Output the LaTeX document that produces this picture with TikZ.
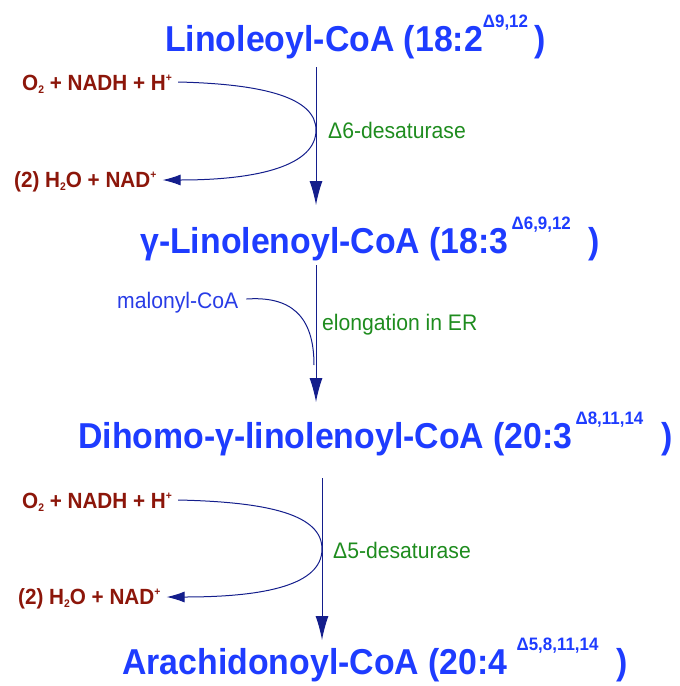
\documentclass[tikz,border=0pt]{standalone}
\usepackage{fontspec}
\setmainfont{Liberation Sans}[FakeStretch=0.94]
\usetikzlibrary{arrows.meta}
\definecolor{tblue}{RGB}{30,60,255}
\definecolor{mred}{RGB}{140,22,10}
\definecolor{egreen}{RGB}{30,140,30}
\definecolor{anavy}{RGB}{20,30,140}
\definecolor{mblue}{RGB}{40,60,230}
\newcommand{\lsub}[1]{\raisebox{-0.3ex}{\fontsize{11}{11}\selectfont #1}}
\newcommand{\lsup}[1]{\raisebox{0.7ex}{\fontsize{11}{11}\selectfont #1}}
\newcommand{\tsup}[1]{\raisebox{1.25ex}{\fontsize{18}{18}\selectfont #1}}
\tikzset{
  title/.style={text=tblue, font=\fontsize{36}{36}\selectfont\bfseries, anchor=base west, inner sep=0pt},
  reag/.style={text=mred, font=\fontsize{22}{22}\selectfont\bfseries, anchor=base west, inner sep=0pt},
  enz/.style={text=egreen, font=\fontsize{22.5}{22.5}\selectfont, anchor=base west, inner sep=0pt},
  mal/.style={text=mblue, font=\fontsize{22.5}{22.5}\selectfont, anchor=base west, inner sep=0pt},
  mainarrow/.style={draw=anavy, line width=1pt, -{Latex[length=24pt,width=13pt]}},
  sidecurve/.style={draw=anavy, line width=1pt},
}
\begin{document}
\begin{tikzpicture}[x=1pt,y=-1pt]
\useasboundingbox (0,0) rectangle (680,686);
% titles
\node[title] (t1) at (165,51) {Linoleoyl-CoA (18:2\tsup{Δ9,12}\,)};
\node[title] (t2) at (140,253) {γ-Linolenoyl-CoA (18:3\tsup{\,Δ6,9,12}\enspace)};
\node[title] (t3) at (78,448) {Dihomo-γ-linolenoyl-CoA (20:3\tsup{\,Δ8,11,14}\enspace)};
\node[title] (t4) at (122,674) {Arachidonoyl-CoA (20:4\tsup{\enspace Δ5,8,11,14}\enspace)};
% step 1
\node[reag] (o1) at (22,90) {O\lsub{2} + NADH + H\lsup{+}};
\node[reag] (w1) at (14,187) {(2) H\lsub{2}O + NAD\lsup{+}};
\node[enz] (e1) at (328,138) {Δ6-desaturase};
\coordinate (a1s) at (316,67);
\coordinate (a1e) at (316,205);
\coordinate (b1) at (316,130);
\draw[mainarrow] (a1s) -- (a1e);
\draw[sidecurve] ([xshift=6pt]o1.east |- 0,82) .. controls (265,84) and (316,98) .. (b1);
\draw[sidecurve, -{Latex[length=18pt,width=11pt]}] (b1) .. controls (316,165) and (260,180) .. ([xshift=6pt]w1.east |- 0,180);
% step 2
\node[mal] (m2) at (117,308) {malonyl-CoA};
\node[enz] (e2) at (322,330) {elongation in ER};
\coordinate (a2s) at (316,265);
\coordinate (a2e) at (316,402);
\coordinate (b2) at (314,365);
\draw[mainarrow] (a2s) -- (a2e);
\draw[sidecurve] ([xshift=8pt]m2.east |- 0,299) .. controls (290,296) and (314,315) .. (b2);
% step 3
\node[reag] (o3) at (22,508) {O\lsub{2} + NADH + H\lsup{+}};
\node[reag] (w3) at (18,604) {(2) H\lsub{2}O + NAD\lsup{+}};
\node[enz] (e3) at (333,558) {Δ5-desaturase};
\coordinate (a3s) at (322,478);
\coordinate (a3e) at (322,640);
\coordinate (b3) at (322,549);
\draw[mainarrow] (a3s) -- (a3e);
\draw[sidecurve] ([xshift=6pt]o3.east |- 0,500) .. controls (270,502) and (322,515) .. (b3);
\draw[sidecurve, -{Latex[length=18pt,width=11pt]}] (b3) .. controls (322,585) and (265,597) .. ([xshift=6pt]w3.east |- 0,597);
\end{tikzpicture}
\end{document}
